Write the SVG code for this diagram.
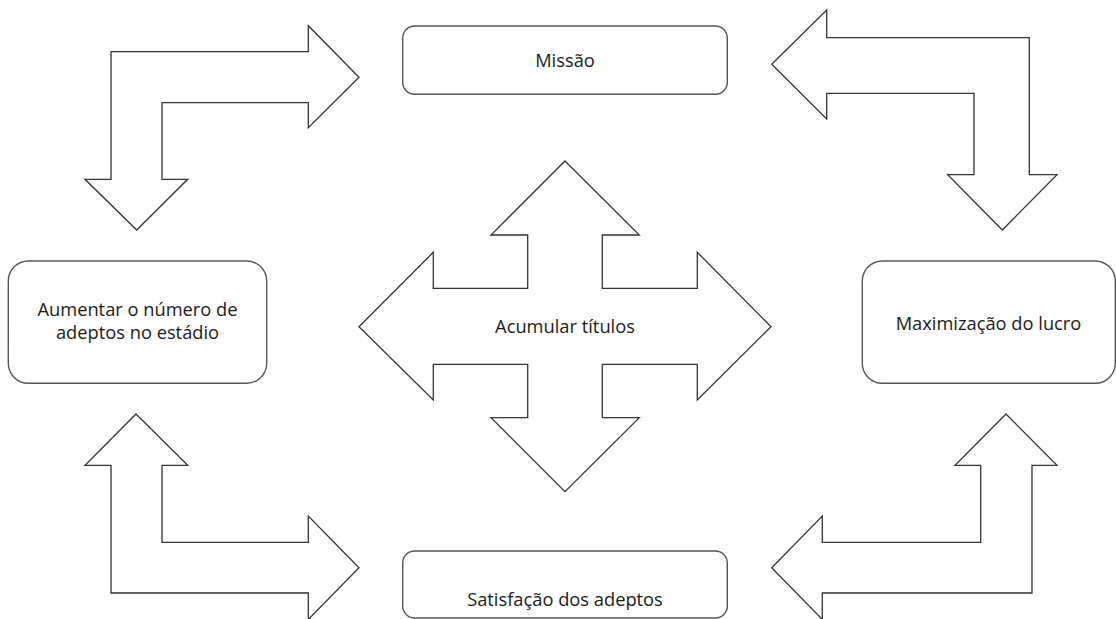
<svg xmlns="http://www.w3.org/2000/svg" width="1116" height="619" viewBox="0 0 1116 619">
<style>
.box{fill:#fff;stroke:#555;stroke-width:1.4}
.arr{fill:#fff;stroke:#333;stroke-width:1.3;stroke-linejoin:miter}
.t{font-family:"Open Sans",sans-serif;font-size:18.3px;fill:#1a1a1a;text-anchor:middle}
</style>
<rect width="1116" height="619" fill="#fff"/>
<g id="connectors">
<polygon id="arrow-tl" class="arr" points="111,51.7 308.3,51.7 308.3,25.7 359,77.3 308.3,127.7 308.3,102.7 162,102.7 162,179.3 187.7,179.3 136.7,230 85,179.3 111,179.3"/>
<polygon id="arrow-tr" class="arr" points="771.7,64.3 826.7,10 826.7,37.7 1029.3,37.7 1029.3,174.7 1057,174.7 1002.3,230 947.7,174.7 974,174.7 974,93.3 826.7,93.3 826.7,119"/>
<polygon id="arrow-bl" class="arr" points="136,414 187.7,465.3 162,465.3 162,542.3 308.3,542.3 308.3,516 359,567.7 308.3,619.4 308.3,593 111,593 111,465.3 85,465.3"/>
<polygon id="arrow-br" class="arr" points="1006,414 1057,465.3 1032,465.3 1032,593 822.3,593 822.3,619.4 771.7,567.7 822.3,516 822.3,542.3 980.7,542.3 980.7,465.3 955,465.3"/>
</g>
<g id="center">
<polygon class="arr" points="565,161 639.3,235 602.3,235 602.3,288.3 697.3,288.3 697.3,252.3 771,326.7 697.3,400 697.3,364.3 602.3,364.3 602.3,417.7 639.3,417.7 565,491.7 491,417.7 527.7,417.7 527.7,364.3 433.3,364.3 433.3,400 359,326.7 433.3,252.3 433.3,288.3 527.7,288.3 527.7,235 491,235"/>
<text class="t" x="565" y="332.5">Acumular títulos</text>
</g>
<g id="missao">
<rect class="box" x="402.7" y="26" width="324.6" height="68.3" rx="12"/>
<text class="t" x="565" y="66.5">Missão</text>
</g>
<g id="satisfacao">
<rect class="box" x="402.7" y="551" width="324.6" height="67" rx="12"/>
<text class="t" x="565" y="606">Satisfação dos adeptos</text>
</g>
<g id="aumentar">
<rect class="box" x="8.3" y="261" width="258.4" height="122.3" rx="20"/>
<text class="t" x="137.5" y="315.5">Aumentar o número de</text>
<text class="t" x="137.5" y="339">adeptos no estádio</text>
</g>
<g id="lucro">
<rect class="box" x="862.3" y="261" width="253" height="122.3" rx="20"/>
<text class="t" x="988.5" y="330">Maximização do lucro</text>
</g>
</svg>
